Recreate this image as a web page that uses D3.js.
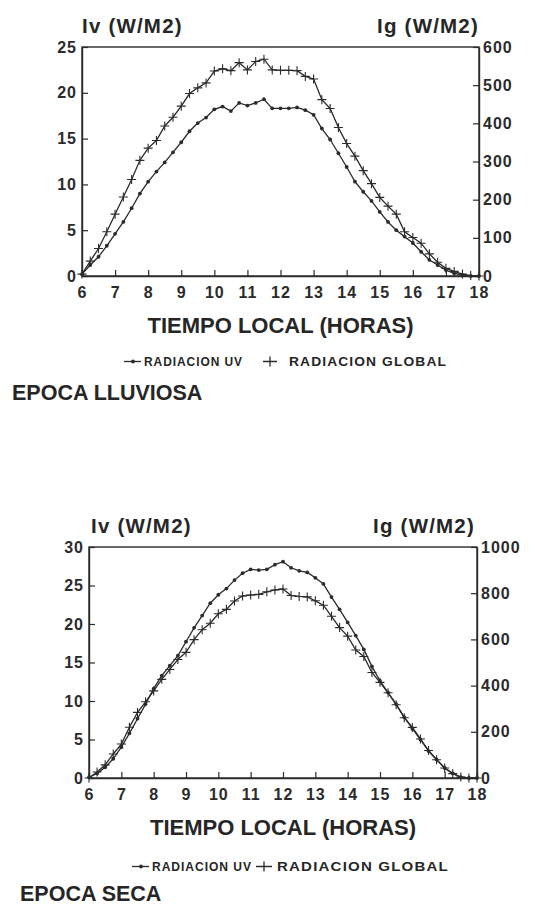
<!DOCTYPE html>
<html>
<head>
<meta charset="utf-8">
<script src="https://cdn.jsdelivr.net/npm/d3@7"></script>
<style>
  body { margin: 0; background: #fff; }
  svg text { font-family: "Liberation Sans", Arial, Helvetica, sans-serif; font-weight: bold; fill: #262626; }
</style>
</head>
<body>
<div id="chart"></div>
<script>
// hora local, cada 15 minutos
const hours = [6, 6.25, 6.5, 6.75, 7, 7.25, 7.5, 7.75, 8, 8.25, 8.5, 8.75, 9, 9.25, 9.5, 9.75,
    10, 10.25, 10.5, 10.75, 11, 11.25, 11.5, 11.75, 12, 12.25, 12.5, 12.75, 13, 13.25, 13.5, 13.75,
    14, 14.25, 14.5, 14.75, 15, 15.25, 15.5, 15.75, 16, 16.25, 16.5, 16.75, 17, 17.25, 17.5, 17.75, 18];

// epoca lluviosa
const lluviosaUV = [0.2, 1.2, 2.1, 3.3, 4.6, 5.9, 7.4, 9.0, 10.3, 11.4, 12.4, 13.5, 14.6, 15.8, 16.7, 17.3,
    18.2, 18.5, 18.0, 18.9, 18.6, 18.9, 19.3, 18.3, 18.3, 18.3, 18.4, 18.1, 17.6, 16.1, 14.9, 13.4,
    11.9, 10.3, 9.2, 8.2, 7.0, 5.9, 5.0, 4.3, 3.6, 2.65, 1.75, 1.2, 0.65, 0.3, 0.1, 0.0, 0.0];
const lluviosaGlobal = [5, 39, 72, 116, 162, 207, 253, 303, 335, 355, 393, 416, 445, 478, 493, 506,
    537, 543, 538, 559, 540, 562, 568, 540, 539, 539, 538, 523, 516, 462, 439, 389,
    347, 314, 276, 242, 206, 183, 162, 116, 101, 86, 58, 36, 20, 12, 5, 1, 0];

// epoca seca
const secaUV = [0.1, 0.6, 1.4, 2.5, 4.0, 5.8, 7.7, 9.6, 11.6, 13.3, 14.6, 15.9, 17.7, 19.5, 21.1, 22.7,
    23.8, 24.6, 25.7, 26.6, 27.1, 27.0, 27.1, 27.7, 28.1, 27.3, 26.9, 26.7, 26.0, 25.2, 23.5, 21.9,
    20.2, 18.5, 16.7, 14.5, 12.6, 11.1, 9.6, 7.9, 6.4, 5.0, 3.5, 2.4, 1.3, 0.6, 0.1, 0.0, 0.0];
const secaGlobal = [0, 26, 57, 104, 147, 220, 284, 330, 377, 427, 470, 513, 544, 599, 642, 670,
    711, 730, 766, 788, 792, 795, 806, 814, 818, 790, 786, 784, 767, 748, 700, 651,
    614, 554, 526, 457, 414, 369, 317, 261, 219, 169, 119, 79, 43, 19, 4, 0, 0];

const xTicks = [6, 7, 8, 9, 10, 11, 12, 13, 14, 15, 16, 17, 18];
const lluviosaUvTicks = [0, 5, 10, 15, 20, 25];
const lluviosaGlobalTicks = [0, 100, 200, 300, 400, 500, 600];
const secaUvTicks = [0, 5, 10, 15, 20, 25, 30];
const secaGlobalTicks = [0, 200, 400, 600, 800, 1000];

const ink = "#2b2b2b";

const svg = d3.select("#chart").append("svg")
    .attr("width", 535)
    .attr("height", 906);

function drawPanel(o) {
    const x = d3.scaleLinear().domain([6, 18]).range([o.left, o.right]);
    const yL = d3.scaleLinear().domain([0, d3.max(o.uvTicks)]).range([o.bottom, o.top]);
    const yR = d3.scaleLinear().domain([0, d3.max(o.globalTicks)]).range([o.bottom, o.top]);

    const g = svg.append("g");

    // marco
    g.append("rect")
        .attr("x", o.left).attr("y", o.top)
        .attr("width", o.right - o.left).attr("height", o.bottom - o.top)
        .attr("fill", "none").attr("stroke", ink).attr("stroke-width", 1.4);

    const axL = g.append("g")
        .attr("transform", `translate(${o.left},0)`)
        .call(d3.axisLeft(yL).tickValues(o.uvTicks).tickFormat(d3.format("d"))
            .tickSize(-6).tickSizeOuter(0).tickPadding(5));
    const axR = g.append("g")
        .attr("transform", `translate(${o.right},0)`)
        .call(d3.axisRight(yR).tickValues(o.globalTicks).tickFormat(d3.format("d"))
            .tickSize(-6).tickSizeOuter(0).tickPadding(4));
    const axB = g.append("g")
        .attr("transform", `translate(0,${o.bottom})`)
        .call(d3.axisBottom(x).tickValues(xTicks).tickFormat(d3.format("d"))
            .tickSize(-6).tickSizeOuter(0).tickPadding(11));

    [axL, axR, axB].forEach(ax => {
        ax.select(".domain").attr("stroke", ink).attr("stroke-width", 1.4);
        ax.selectAll(".tick line").attr("stroke", ink).attr("stroke-width", 1.2);
        ax.selectAll("text")
            .style("font-size", "16px")
            .style("letter-spacing", "1px")
            .style("fill", ink);
    });

    const data = hours.map((h, i) => ({ h, uv: o.uv[i], gl: o.global[i] }));

    const lineUV = d3.line().x(d => x(d.h)).y(d => yL(d.uv));
    const lineGL = d3.line().x(d => x(d.h)).y(d => yR(d.gl));

    g.append("path").datum(data)
        .attr("d", lineGL)
        .attr("fill", "none").attr("stroke", ink).attr("stroke-width", 1.3);
    g.append("path").datum(data)
        .attr("d", lineUV)
        .attr("fill", "none").attr("stroke", ink).attr("stroke-width", 1.3);

    g.selectAll(".gl").data(data).enter().append("path")
        .attr("class", "gl")
        .attr("transform", d => `translate(${x(d.h)},${yR(d.gl)})`)
        .attr("d", "M-4.5,0H4.5M0,-4.5V4.5")
        .attr("stroke", ink).attr("stroke-width", 1.1);

    g.selectAll(".uv").data(data).enter().append("circle")
        .attr("class", "uv")
        .attr("cx", d => x(d.h)).attr("cy", d => yL(d.uv))
        .attr("r", 1.9)
        .attr("fill", ink);

    // titulos de ejes
    g.append("text")
        .attr("x", o.left + o.titleInset).attr("y", o.top - 14)
        .style("font-size", "20.5px").style("letter-spacing", "1.2px")
        .text("Iv (W/M2)");
    g.append("text")
        .attr("x", o.right - o.titleInset).attr("y", o.top - 14)
        .attr("text-anchor", "end")
        .style("font-size", "20.5px").style("letter-spacing", "1.2px")
        .text("Ig (W/M2)");

    g.append("text")
        .attr("x", (o.left + o.right) / 2).attr("y", o.bottom + 57)
        .attr("text-anchor", "middle")
        .style("font-size", "22px")
        .text("TIEMPO LOCAL (HORAS)");

    // leyenda
    const ly = o.bottom + o.legendDy;
    const leg = g.append("g");
    leg.append("line")
        .attr("x1", o.legUV).attr("x2", o.legUV + 17)
        .attr("y1", ly - 4.5).attr("y2", ly - 4.5)
        .attr("stroke", ink).attr("stroke-width", 1.3);
    leg.append("circle")
        .attr("cx", o.legUV + 9).attr("cy", ly - 4.5).attr("r", 1.9).attr("fill", ink);
    leg.append("text")
        .attr("x", o.legUV + 20).attr("y", ly)
        .attr("textLength", o.uvTextLen).attr("lengthAdjust", "spacingAndGlyphs")
        .style("font-size", "12.5px").style("letter-spacing", "1px")
        .text("RADIACION UV");

    leg.append("path")
        .attr("transform", `translate(${o.legGL},${ly - 4.5})`)
        .attr("d", `M-${o.plusW},0H${o.plusW}M0,-5V5`)
        .attr("stroke", ink).attr("stroke-width", 1.3);
    leg.append("text")
        .attr("x", o.legGL + o.glTextGap).attr("y", ly)
        .attr("textLength", o.glTextLen).attr("lengthAdjust", "spacingAndGlyphs")
        .style("font-size", "12.5px").style("letter-spacing", "1px")
        .text("RADIACION GLOBAL");

    g.append("text")
        .attr("x", o.labelX).attr("y", o.labelY)
        .style("font-size", "21.5px")
        .text(o.label);
}

drawPanel({
    left: 82, right: 479, top: 47, bottom: 276,
    uv: lluviosaUV, global: lluviosaGlobal,
    uvTicks: lluviosaUvTicks, globalTicks: lluviosaGlobalTicks,
    titleInset: 0, legendDy: 90,
    legUV: 124, legGL: 270, plusW: 7, glTextGap: 19, uvTextLen: 99, glTextLen: 158,
    label: "EPOCA LLUVIOSA", labelX: 12, labelY: 400
});

drawPanel({
    left: 89, right: 477, top: 547, bottom: 778,
    uv: secaUV, global: secaGlobal,
    uvTicks: secaUvTicks, globalTicks: secaGlobalTicks,
    titleInset: 2, legendDy: 93,
    legUV: 132, legGL: 264, plusW: 8, glTextGap: 13, uvTextLen: 100, glTextLen: 172,
    label: "EPOCA SECA", labelX: 20, labelY: 901
});
</script>
</body>
</html>
